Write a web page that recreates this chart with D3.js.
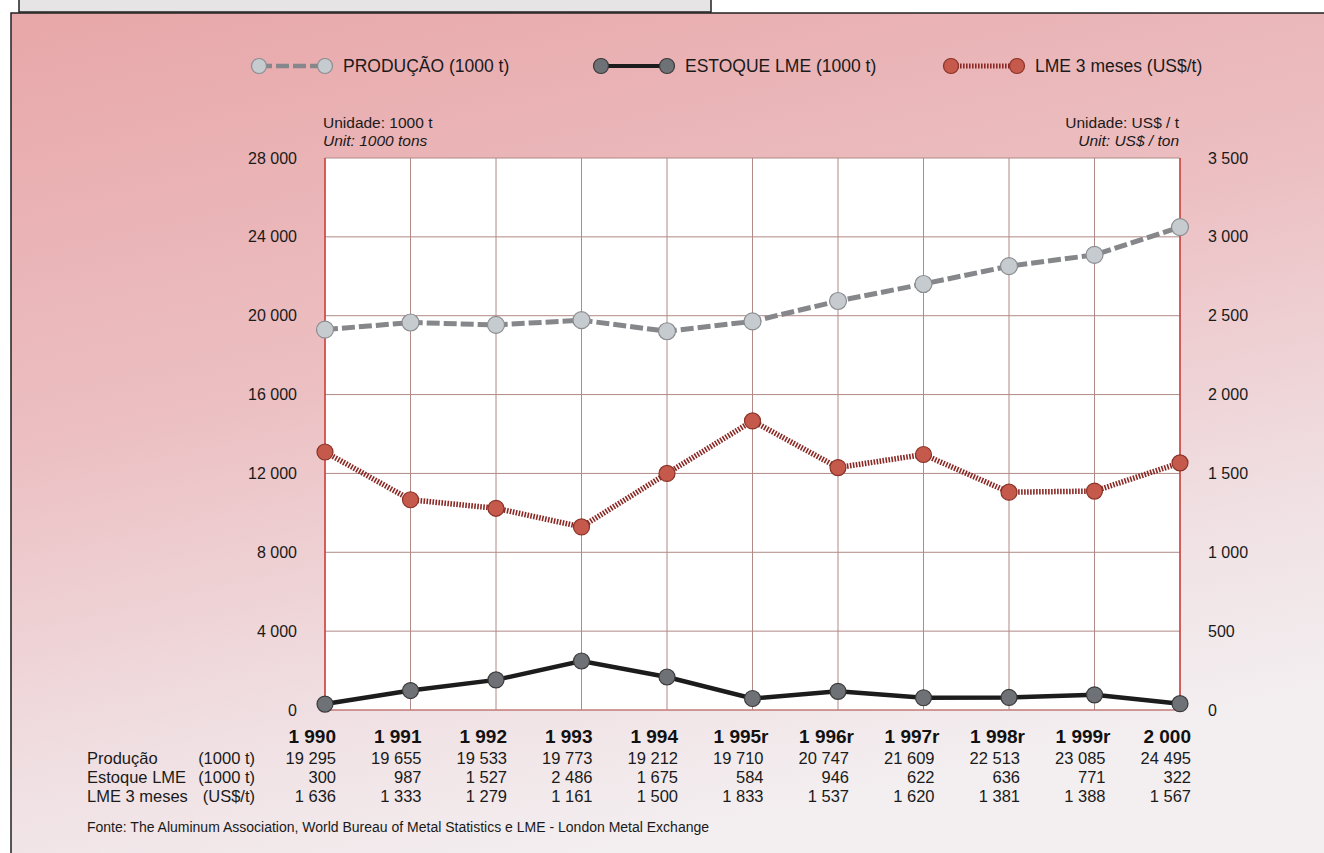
<!DOCTYPE html>
<html>
<head>
<meta charset="utf-8">
<script src="https://cdn.jsdelivr.net/npm/d3@7"></script>
<style>
  body { margin: 0; background: #ffffff; }
  svg { display: block; font-family: "Liberation Sans", Arial, sans-serif; }
</style>
</head>
<body>
<div id="chart"></div>
<script>
// data
var years = ["1 990", "1 991", "1 992", "1 993", "1 994", "1 995r", "1 996r", "1 997r", "1 998r", "1 999r", "2 000"];
var producao = [19295, 19655, 19533, 19773, 19212, 19710, 20747, 21609, 22513, 23085, 24495];
var estoque = [300, 987, 1527, 2486, 1675, 584, 946, 622, 636, 771, 322];
var lme = [1636, 1333, 1279, 1161, 1500, 1833, 1537, 1620, 1381, 1388, 1567];
var leftTicks = [0, 4000, 8000, 12000, 16000, 20000, 24000, 28000];
var rightTicks = [0, 500, 1000, 1500, 2000, 2500, 3000, 3500];

var W = 1324, H = 853;
var plot = { left: 325, right: 1180, top: 158, bottom: 710 };

// numbers like "19 295"
function fmt(v) {
    return d3.format(",")(v).replace(/,/g, " ");
}

var svg = d3.select("#chart").append("svg")
    .attr("width", W)
    .attr("height", H);

var defs = svg.append("defs");
var grad = defs.append("linearGradient")
    .attr("id", "bg")
    .attr("x1", "0").attr("y1", "0")
    .attr("x2", "0.35").attr("y2", "1");
grad.append("stop").attr("offset", "0").attr("stop-color", "#e8a7a9");
grad.append("stop").attr("offset", "0.45").attr("stop-color", "#ecbfc2");
grad.append("stop").attr("offset", "0.8").attr("stop-color", "#f0e0e3");
grad.append("stop").attr("offset", "1").attr("stop-color", "#f3eef0");

// cut-off title box at the very top
svg.append("rect")
    .attr("x", 19).attr("y", -20)
    .attr("width", 692).attr("height", 32)
    .attr("fill", "#e6e4e5")
    .attr("stroke", "#222").attr("stroke-width", 1.5);

// main frame
svg.append("rect")
    .attr("x", 11).attr("y", 13)
    .attr("width", W + 10).attr("height", H + 10)
    .attr("fill", "url(#bg)")
    .attr("stroke", "#222").attr("stroke-width", 1.5);

// scales
var x = d3.scalePoint()
    .domain(years)
    .range([plot.left, plot.right]);

var yLeft = d3.scaleLinear()
    .domain([0, 28000])
    .range([plot.bottom, plot.top]);

var yRight = d3.scaleLinear()
    .domain([0, 3500])
    .range([plot.bottom, plot.top]);

// plot background
svg.append("rect")
    .attr("x", plot.left).attr("y", plot.top)
    .attr("width", plot.right - plot.left)
    .attr("height", plot.bottom - plot.top)
    .attr("fill", "#ffffff");

// grid
svg.append("g")
    .selectAll("line")
    .data(leftTicks)
    .enter().append("line")
    .attr("x1", plot.left).attr("x2", plot.right)
    .attr("y1", d => yLeft(d)).attr("y2", d => yLeft(d))
    .attr("stroke", "#b08a86").attr("stroke-width", 1);

svg.append("g")
    .selectAll("line")
    .data(years)
    .enter().append("line")
    .attr("x1", d => x(d)).attr("x2", d => x(d))
    .attr("y1", plot.top).attr("y2", plot.bottom)
    .attr("stroke", "#b08a86").attr("stroke-width", 1);

// red side borders
svg.append("line")
    .attr("x1", plot.left).attr("x2", plot.left)
    .attr("y1", plot.top).attr("y2", plot.bottom)
    .attr("stroke", "#d2403c").attr("stroke-width", 1.5);
svg.append("line")
    .attr("x1", plot.right).attr("x2", plot.right)
    .attr("y1", plot.top).attr("y2", plot.bottom)
    .attr("stroke", "#d2403c").attr("stroke-width", 1.5);
svg.append("line")
    .attr("x1", plot.left).attr("x2", plot.right)
    .attr("y1", plot.bottom).attr("y2", plot.bottom)
    .attr("stroke", "#c8726e").attr("stroke-width", 1.2);

// axes, drawn with d3 then stripped of their lines
var axisL = svg.append("g")
    .attr("transform", `translate(${plot.left - 25}, 0)`)
    .call(d3.axisLeft(yLeft).tickValues(leftTicks).tickFormat(fmt).tickSize(0));
var axisR = svg.append("g")
    .attr("transform", `translate(${plot.right + 25}, 0)`)
    .call(d3.axisRight(yRight).tickValues(rightTicks).tickFormat(fmt).tickSize(0));
[axisL, axisR].forEach(function(a) {
    a.select(".domain").remove();
    a.selectAll("text")
        .attr("font-family", "Liberation Sans, Arial, sans-serif")
        .attr("font-size", 16)
        .attr("fill", "#1a1a1a");
});

// unit labels
var unitSize = 15.5;
svg.append("text").attr("x", plot.left - 2).attr("y", 128)
    .attr("font-size", unitSize).attr("fill", "#1a1a1a")
    .text("Unidade: 1000 t");
svg.append("text").attr("x", plot.left - 2).attr("y", 146)
    .attr("font-size", unitSize).attr("fill", "#1a1a1a")
    .attr("font-style", "italic")
    .text("Unit: 1000 tons");
svg.append("text").attr("x", plot.right - 1).attr("y", 128)
    .attr("text-anchor", "end")
    .attr("font-size", unitSize).attr("fill", "#1a1a1a")
    .text("Unidade: US$ / t");
svg.append("text").attr("x", plot.right - 1).attr("y", 146)
    .attr("text-anchor", "end")
    .attr("font-size", unitSize).attr("fill", "#1a1a1a")
    .attr("font-style", "italic")
    .text("Unit: US$ / ton");

// series
var series = [
    { name: "PRODUÇÃO (1000 t)", values: producao, scale: yLeft,
      stroke: "#85878a", width: 5, dash: "13,4", fill: "#c6cbd0", dot: "#8a8d90", r: 8.5 },
    { name: "ESTOQUE LME (1000 t)", values: estoque, scale: yLeft,
      stroke: "#1c1c1c", width: 4.5, dash: null, fill: "#6e7276", dot: "#3a3a3a", r: 8 },
    { name: "LME 3 meses (US$/t)", values: lme, scale: yRight,
      stroke: "#8a2824", width: 5.5, dash: "1.6,1.4", fill: "#c55a4c", dot: "#8a3228", r: 8 }
];

series.forEach(function(s) {
    var line = d3.line()
        .x((d, i) => x(years[i]))
        .y(d => s.scale(d));
    svg.append("path")
        .datum(s.values)
        .attr("d", line)
        .attr("fill", "none")
        .attr("stroke", s.stroke)
        .attr("stroke-width", s.width)
        .attr("stroke-dasharray", s.dash);
    svg.append("g")
        .selectAll("circle")
        .data(s.values)
        .enter().append("circle")
        .attr("cx", (d, i) => x(years[i]))
        .attr("cy", d => s.scale(d))
        .attr("r", s.r)
        .attr("fill", s.fill)
        .attr("stroke", s.dot)
        .attr("stroke-width", 1.2);
});

// legend
var legendX = [259, 601, 951];
var legend = svg.append("g");
series.forEach(function(s, i) {
    var lx = legendX[i], ly = 66;
    legend.append("line")
        .attr("x1", lx).attr("x2", lx + 66)
        .attr("y1", ly).attr("y2", ly)
        .attr("stroke", s.stroke)
        .attr("stroke-width", s.width - 0.5)
        .attr("stroke-dasharray", s.dash);
    [lx, lx + 66].forEach(function(cx) {
        legend.append("circle")
            .attr("cx", cx).attr("cy", ly).attr("r", 7.5)
            .attr("fill", s.fill).attr("stroke", s.dot).attr("stroke-width", 1.2);
    });
    legend.append("text")
        .attr("x", lx + 84).attr("y", ly + 6)
        .attr("font-size", 17.5)
        .attr("fill", "#1a1a1a")
        .text(s.name);
});

// data table under the chart
var tableRows = [
    { label: "Produção", unit: "(1000 t)", values: producao, y: 764 },
    { label: "Estoque LME", unit: "(1000 t)", values: estoque, y: 783 },
    { label: "LME 3 meses", unit: "(US$/t)", values: lme, y: 802 }
];

svg.append("g")
    .selectAll("text")
    .data(years)
    .enter().append("text")
    .attr("x", d => x(d) + (d.indexOf("r") > 0 ? 16 : 11))
    .attr("y", 743)
    .attr("text-anchor", "end")
    .attr("font-size", 19)
    .attr("font-weight", "bold")
    .attr("fill", "#111")
    .text(d => d);

tableRows.forEach(function(row) {
    svg.append("text")
        .attr("x", 87).attr("y", row.y)
        .attr("font-size", 16.5).attr("fill", "#1a1a1a")
        .text(row.label);
    svg.append("text")
        .attr("x", 255).attr("y", row.y)
        .attr("text-anchor", "end")
        .attr("font-size", 16.5).attr("fill", "#1a1a1a")
        .text(row.unit);
    svg.append("g")
        .selectAll("text")
        .data(row.values)
        .enter().append("text")
        .attr("x", (d, i) => x(years[i]) + 11)
        .attr("y", row.y)
        .attr("text-anchor", "end")
        .attr("font-size", 16.5)
        .attr("fill", "#1a1a1a")
        .text(d => fmt(d));
});

svg.append("text")
    .attr("x", 87).attr("y", 832)
    .attr("font-size", 14)
    .attr("fill", "#1a1a1a")
    .text("Fonte: The Aluminum Association, World Bureau of Metal Statistics e LME - London Metal Exchange");
</script>
</body>
</html>
